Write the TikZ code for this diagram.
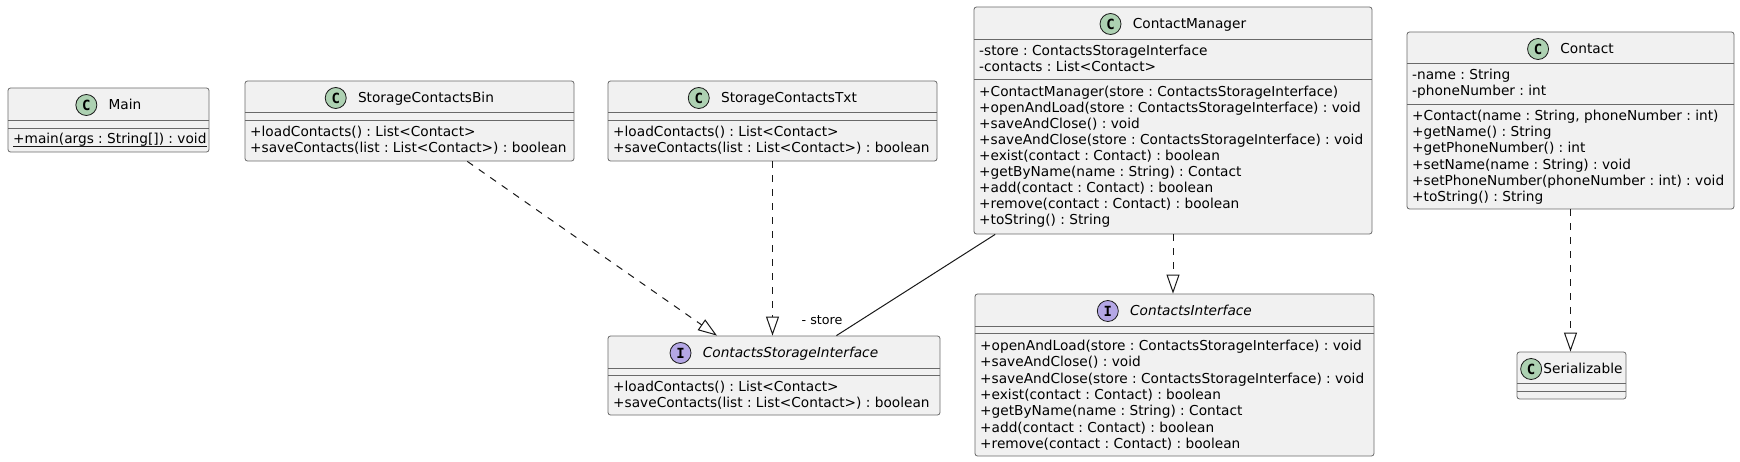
\documentclass[tikz,border=0pt]{standalone}
\usepackage{fontspec}
\setmainfont{DejaVu Sans}
\newfontfamily\circfont{DejaVu Sans Mono}
\usetikzlibrary{arrows.meta,fit}
\frenchspacing
\definecolor{boxfill}{HTML}{F1F1F1}
\definecolor{boxline}{HTML}{181818}
\definecolor{cfill}{HTML}{ADD1B2}
\definecolor{ifill}{HTML}{B4A7E5}
\definecolor{wire}{HTML}{181818}
\tikzset{
 cbox/.style={draw=boxline!65, line width=0.8pt, fill=boxfill, rounded corners=2.5pt, inner sep=0pt},
 sepline/.style={draw=boxline!65, line width=0.8pt},
 ttl/.style={inner sep=0pt, font=\frenchspacing\fontsize{13.7}{16}\selectfont},
 member/.style={inner sep=0pt, font=\frenchspacing\fontsize{13.7}{16}\selectfont},
 icon/.style={circle, draw=boxline, line width=0.8pt, minimum size=21pt, inner sep=0pt, font=\circfont\bfseries\fontsize{14}{14}\selectfont},
 cicon/.style={icon, fill=cfill},
 iicon/.style={icon, fill=ifill},
 realize/.style={draw=wire, line width=1pt, dash pattern=on 7pt off 7pt, -{Triangle[open, length=19pt, width=13pt, line width=1pt]}},
 assoc/.style={draw=wire, line width=1pt},
 lbl/.style={inner sep=0pt, font=\frenchspacing\fontsize{12.7}{14}\selectfont},
 uline/.style={draw=boxline, line width=0.9pt},
}
\newcommand\umlclass[7]{%
  \node[cbox, fit={(#2,#3) (#4,#5)}] (#1) {};
  \draw[sepline] (#2,#6) -- (#4,#6);
  \draw[sepline] (#2,#7) -- (#4,#7);
}
\newcommand\umltitle[7]{%
  \node[ttl, anchor=base] (#1-t) at (#2,#3) {\hspace{#4pt}#7};
  \node[#5, anchor=west] (#1-i) at ([yshift=4.5pt]#1-t.base west) {#6};
}
\newcommand\umlrows[5]{%
  \foreach \txt [count=\n] in {#5} {
    \node[member, anchor=base west] (#1\n) at (#2, {#3+#4*(\n-1)}) {\txt};
  }
}
\begin{document}
\begin{tikzpicture}[x=1pt, y=-1pt]
\useasboundingbox (0,0) rectangle (1740,462);

% Main
\umlclass{main}{8}{88}{209}{152}{120}{128}
\umltitle{main}{108.5}{109.5}{33}{cicon}{C}{Main}
\umlrows{mainm}{13}{143.5}{16}{{+main(args : String[]) : void}}
\draw[uline] ([yshift=-2.5pt]mainm1.base west) -- ([yshift=-2.5pt]mainm1.base east);

% StorageContactsBin
\umlclass{bin}{245}{81}{574}{161}{112}{120}
\umltitle{bin}{409.5}{102.5}{33}{cicon}{C}{StorageContactsBin}
\umlrows{binm}{250}{136.5}{16}{{+loadContacts() : List<Contact>},{+saveContacts(list : List<Contact>) : boolean}}

% StorageContactsTxt
\umlclass{txt}{608}{81}{937}{161}{112}{120}
\umltitle{txt}{772.5}{102.5}{33}{cicon}{C}{StorageContactsTxt}
\umlrows{txtm}{613}{136.5}{16}{{+loadContacts() : List<Contact>},{+saveContacts(list : List<Contact>) : boolean}}

% ContactManager
\umlclass{cm}{974}{7}{1372}{234}{39}{79}
\umltitle{cm}{1173}{28.5}{33}{cicon}{C}{ContactManager}
\umlrows{cma}{979}{55.7}{16}{{-store : ContactsStorageInterface},{-contacts : List<Contact>}}
\umlrows{cmm}{979}{97}{16}{{+ContactManager(store : ContactsStorageInterface)},{+openAndLoad(store : ContactsStorageInterface) : void},{+saveAndClose() : void},{+saveAndClose(store : ContactsStorageInterface) : void},{+exist(contact : Contact) : boolean},{+getByName(name : String) : Contact},{+add(contact : Contact) : boolean},{+remove(contact : Contact) : boolean},{+toString() : String}}

% Contact
\umlclass{contact}{1407}{32}{1734}{209}{63}{104}
\umltitle{contact}{1570.5}{53.5}{33}{cicon}{C}{Contact}
\umlrows{cta}{1412}{79.5}{16.2}{{-name : String},{-phoneNumber : int}}
\umlrows{ctm}{1412}{120.5}{16.2}{{+Contact(name : String, phoneNumber : int)},{+getName() : String},{+getPhoneNumber() : int},{+setName(name : String) : void},{+setPhoneNumber(phoneNumber : int) : void},{+toString() : String}}

% ContactsStorageInterface
\umlclass{csi}{608}{336}{940}{415}{368}{375}
\umltitle{csi}{774}{357.5}{33}{iicon}{I}{\itshape ContactsStorageInterface}
\umlrows{csim}{613}{391.5}{16}{{+loadContacts() : List<Contact>},{+saveContacts(list : List<Contact>) : boolean}}

% ContactsInterface
\umlclass{ci}{975}{294}{1374}{456}{326}{333}
\umltitle{ci}{1174.5}{315.5}{33}{iicon}{I}{\itshape ContactsInterface}
\umlrows{cim}{980}{350.5}{16.3}{{+openAndLoad(store : ContactsStorageInterface) : void},{+saveAndClose() : void},{+saveAndClose(store : ContactsStorageInterface) : void},{+exist(contact : Contact) : boolean},{+getByName(name : String) : Contact},{+add(contact : Contact) : boolean},{+remove(contact : Contact) : boolean}}

% Serializable
\umlclass{ser}{1517}{352}{1626}{399}{383}{391}
\umltitle{ser}{1571.5}{373.5}{23}{cicon}{C}{Serializable}

% connectors
\draw[realize] (bin) -- (csi);
\draw[realize] (txt) -- (txt |- csi.north);
\draw[assoc] (cm) -- (csi);
\node[lbl, anchor=base] (storelbl) at (822,324) {- store};
\draw[realize] (cm) -- (cm |- ci.north);
\draw[realize] (contact) -- (contact |- ser.north);
\end{tikzpicture}
\end{document}
